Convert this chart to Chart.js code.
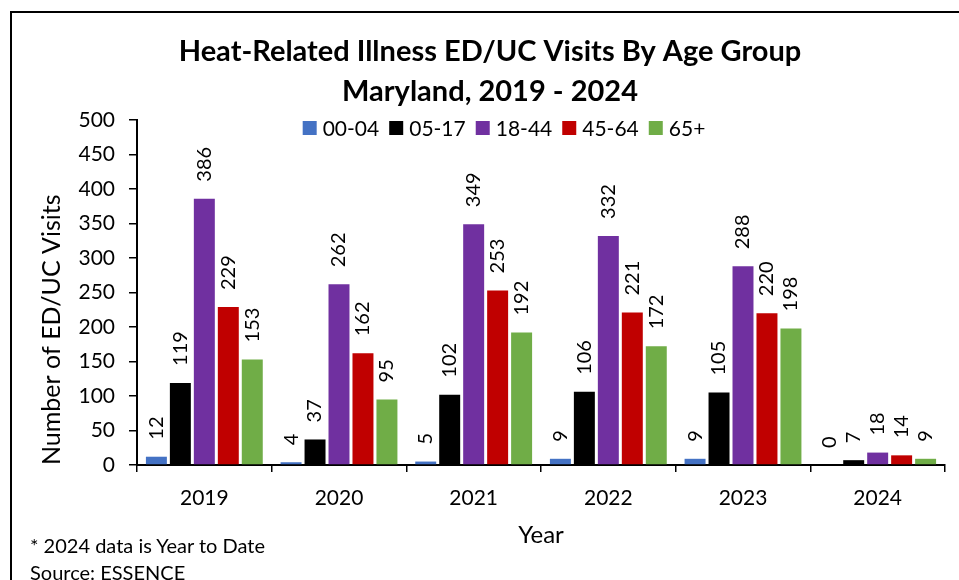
<!DOCTYPE html>
<html lang="en">
<head>
    <meta charset="UTF-8">
    <title>Heat-Related Illness ED/UC Visits By Age Group</title>
    <script src="https://cdn.jsdelivr.net/npm/chart.js"></script>
    <style>
        body{margin:0; background:#fff; font-family:Lato, sans-serif;}
        #wrap{position:relative; width:959px; height:580px; overflow:hidden;}
        #frame{position:absolute; left:10px; top:11px; width:1000px; height:600px; border-left:2px solid #000; border-top:2px solid #000;}
        #myChart{position:absolute; left:0; top:0;}
        .note{position:absolute; left:30px; font-size:20px; color:#000; line-height:24px;}
    </style>
</head>
<body>
<div id="wrap">
    <div id="frame"></div>
    <canvas id="myChart" width="959" height="580"></canvas>
    <div class="note" style="top:533px;">* 2024 data is Year to Date</div>
    <div class="note" style="top:560px;">Source: ESSENCE</div>
</div>
<script>
    const years = ["2019", "2020", "2021", "2022", "2023", "2024"];
    const ageGroups = ["00-04", "05-17", "18-44", "45-64", "65+"];
    const colors = ["#4472C4", "#000000", "#7030A0", "#C00000", "#70AD47"];
    const age0004 = [12, 4, 5, 9, 9, 0];
    const age0517 = [119, 37, 102, 106, 105, 7];
    const age1844 = [386, 262, 349, 332, 288, 18];
    const age4564 = [229, 162, 253, 221, 220, 14];
    const age65up = [153, 95, 192, 172, 198, 9];
    const seriesValues = [age0004, age0517, age1844, age4564, age65up];

    Chart.defaults.font.family = "Lato";
    Chart.defaults.color = "#000";

    // value labels rotated above the bars + legend row inside the plot
    const barLabels = {
        id: "barLabels",
        afterDatasetsDraw(chart){
            const ctx = chart.ctx;
            ctx.save();
            ctx.fillStyle = "#000";
            ctx.font = "20px Lato";
            ctx.textAlign = "left";
            ctx.textBaseline = "middle";
            chart.data.datasets.forEach(function(ds, i){
                chart.getDatasetMeta(i).data.forEach(function(bar, j){
                    ctx.save();
                    ctx.translate(bar.x, bar.y - 17);
                    ctx.rotate(-Math.PI / 2);
                    ctx.fillText(String(ds.data[j]), 0, 0);
                    ctx.restore();
                });
            });

            // legend
            ctx.font = "21px Lato";
            const box = 14, gap = 6, space = 10;
            let total = 0;
            chart.data.datasets.forEach(function(ds){
                total += box + gap + ctx.measureText(ds.label).width + space;
            });
            total -= space;
            let x = 504 - total / 2;
            const y = 128;
            chart.data.datasets.forEach(function(ds){
                ctx.fillStyle = ds.backgroundColor;
                ctx.fillRect(x, y - box / 2, box, box);
                ctx.fillStyle = "#000";
                ctx.fillText(ds.label, x + box + gap, y + 1);
                x += box + gap + ctx.measureText(ds.label).width + space;
            });
            ctx.restore();
        }
    };

    const ctx = document.getElementById("myChart");
    new Chart(ctx, {
        type: "bar",
        data: {
            labels: years,
            datasets: ageGroups.map(function(g, i){
                return {
                    label: g,
                    data: seriesValues[i],
                    backgroundColor: colors[i],
                    categoryPercentage: 0.89,
                    barPercentage: 0.875
                };
            })
        },
        options: {
            responsive: false,
            devicePixelRatio: 1,
            animation: false,
            layout: {padding: {left: 35, right: 14, top: 0, bottom: 0}},
            plugins: {
                legend: {display: false},
                tooltip: {enabled: false},
                title: {
                    display: true,
                    text: ["Heat-Related Illness ED/UC Visits By Age Group", "Maryland, 2019 - 2024"],
                    color: "#000",
                    font: {size: 29, weight: "bold", lineHeight: 1.38},
                    padding: {top: 32, bottom: 8}
                }
            },
            scales: {
                x: {
                    afterFit(scale){ scale.height = 115; },
                    grid: {drawOnChartArea: false, tickLength: 7, color: "#000", lineWidth: 1.5},
                    border: {color: "#000", width: 2},
                    ticks: {font: {size: 21}, padding: 14, color: "#000"},
                    title: {display: true, text: "Year", font: {size: 24}, padding: {bottom: 30}, color: "#000"}
                },
                y: {
                    min: 0,
                    max: 500,
                    afterFit(scale){ scale.width = 102; },
                    grid: {drawOnChartArea: false, tickLength: 8, color: "#000", lineWidth: 1.5},
                    border: {color: "#000", width: 2},
                    ticks: {stepSize: 50, font: {size: 21}, padding: 14, color: "#000"},
                    title: {display: true, text: "Number of ED/UC Visits", align: "start", font: {size: 25}, padding: {top: 2}, color: "#000"}
                }
            }
        },
        plugins: [barLabels]
    });
</script>
</body>
</html>
